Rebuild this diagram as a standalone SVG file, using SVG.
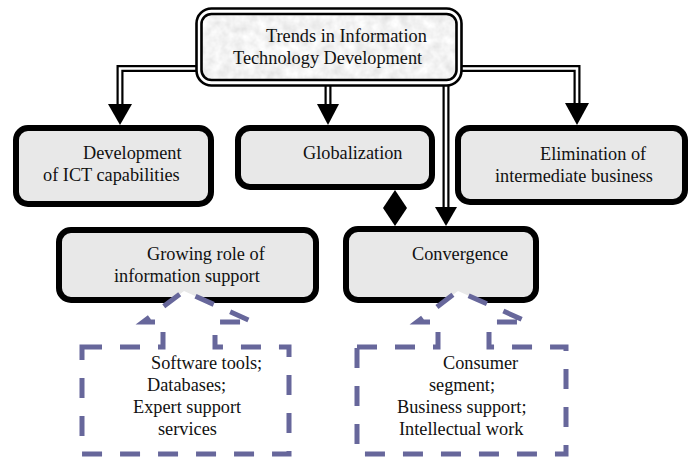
<svg xmlns="http://www.w3.org/2000/svg" width="689" height="458" viewBox="0 0 689 458">
<style>
.t{font-family:"Liberation Serif","Times New Roman",serif;font-size:18.3px;fill:#111}
.box{fill:#e8e8e8;stroke:#000;stroke-width:6}
.dl{fill:none;stroke:#000;stroke-width:7}
.dw{fill:none;stroke:#fff;stroke-width:2.6}
.ah{fill:#000}
.co{fill:#fff;stroke:#67679b;stroke-width:5;stroke-dasharray:20 18}
</style>
<defs>
<filter id="tex" x="0" y="0" width="100%" height="100%">
<feTurbulence type="fractalNoise" baseFrequency="0.09" numOctaves="3" seed="4" result="n"/>
<feColorMatrix in="n" type="matrix" values="0.35 0 0 0 0.72 0.35 0 0 0 0.72 0.35 0 0 0 0.72 0 0 0 0 1" result="g"/>
<feComposite in="g" in2="SourceGraphic" operator="in"/>
</filter>
</defs>
<rect width="689" height="458" fill="#fff"/>
<g id="connectors">
<path class="dl" d="M198,68.5 H120 V108"/>
<path class="dw" d="M198,68.5 H120 V108"/>
<path class="dl" d="M328,84 V108"/>
<path class="dw" d="M328,84 V108"/>
<path class="dl" d="M460,68.5 H577 V106"/>
<path class="dw" d="M460,68.5 H577 V106"/>
<path class="dl" d="M446,84 V210"/>
<path class="dw" d="M446,84 V210"/>
<polygon class="ah" points="108,104 132,104 120,125"/>
<polygon class="ah" points="317,104 339,104 328,125"/>
<polygon class="ah" points="565,103 589,103 577,125"/>
<polygon class="ah" points="435,207 457,207 446,226"/>
<polygon class="ah" points="395,190 407,208 395,226 383,208"/>
</g>
<g id="top">
<rect x="196.5" y="8.5" width="265" height="77" rx="15" fill="#fff" stroke="#000" stroke-width="2.6"/>
<rect x="201.5" y="14" width="255" height="66" rx="10" fill="#000" filter="url(#tex)"/>
<rect x="201.5" y="14" width="255" height="66" rx="10" fill="none" stroke="#000" stroke-width="2.6"/>
<text class="t" x="266" y="42">Trends in Information</text>
<text class="t" x="233" y="64">Technology Development</text>
</g>
<g id="development">
<rect class="box" x="16" y="128" width="195" height="76" rx="12"/>
<text class="t" x="83" y="159">Development</text>
<text class="t" x="43" y="181">of ICT capabilities</text>
</g>
<g id="globalization">
<rect class="box" x="238" y="128" width="194" height="59" rx="12"/>
<text class="t" x="303" y="159">Globalization</text>
</g>
<g id="elimination">
<rect class="box" x="458" y="128" width="227" height="74" rx="12"/>
<text class="t" x="540" y="160">Elimination of</text>
<text class="t" x="495" y="182">intermediate business</text>
</g>
<g id="growing">
<rect class="box" x="59" y="230" width="257" height="70" rx="12"/>
<text class="t" x="147" y="260">Growing role of</text>
<text class="t" x="114" y="282">information support</text>
</g>
<g id="convergence">
<rect class="box" x="346" y="229" width="190" height="71" rx="12"/>
<text class="t" x="412" y="260">Convergence</text>
</g>
<g id="callout-left">
<path class="co" d="M82,347 H163 V322 H143 L184,291 L253,322 H215 V347 H289 V454 H82 Z"/>
<text class="t" x="151" y="369">Software tools;</text>
<text class="t" x="147" y="391">Databases;</text>
<text class="t" x="133" y="413">Expert support</text>
<text class="t" x="158" y="435">services</text>
</g>
<g id="callout-right">
<path class="co" d="M357,347 H438 V322 H417 L458,291 L528,322 H489 V347 H566 V454 H357 Z"/>
<text class="t" x="443" y="369">Consumer</text>
<text class="t" x="429" y="391">segment;</text>
<text class="t" x="397" y="413">Business support;</text>
<text class="t" x="399" y="435">Intellectual work</text>
</g>
</svg>
